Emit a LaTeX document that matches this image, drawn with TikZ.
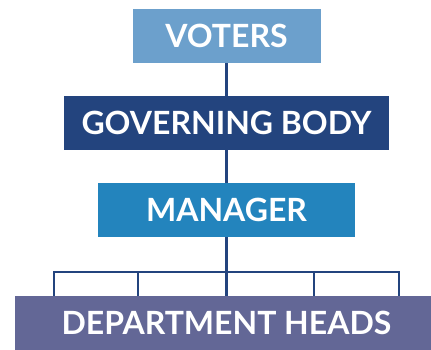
\documentclass[tikz,border=0pt]{standalone}
\usepackage{fontspec}
\setmainfont{Lato}
\definecolor{voterblue}{HTML}{6CA0CC}
\definecolor{bodyblue}{HTML}{23447E}
\definecolor{managerblue}{HTML}{2384BD}
\definecolor{deptpurple}{HTML}{636796}
\tikzset{
  orgbox/.style={fill=#1, text=white, font=\fontsize{32}{36}\selectfont\bfseries,
    minimum height=54pt, inner sep=0pt, text height=23pt, text depth=0pt},
  orgline/.style={draw=bodyblue, line width=2.6pt}
}
\begin{document}
\begin{tikzpicture}[x=1pt,y=-1pt]
  \useasboundingbox (0,0) rectangle (431,350);
  % Boxes
  \node[orgbox=voterblue, minimum width=188pt] (voters) at (226.5,36) {VOTERS};
  \node[orgbox=bodyblue, minimum width=325pt] (body) at (226.5,123) {GOVERNING BODY};
  \node[orgbox=managerblue, minimum width=257pt] (manager) at (226.5,210) {MANAGER};
  % Lines
  \coordinate (busl) at (54,272);
  \coordinate (busr) at (399,272);
  \coordinate (busa) at (138,272);
  \coordinate (busb) at (314,272);
  \draw[orgline] (voters.south) -- (body.north);
  \draw[orgline] (body.south) -- (manager.north);
  \draw[orgline] ([yshift=-26pt]busl) -- (busl) -- (busr) -- ([yshift=-26pt]busr);
  \draw[orgline] (busa) -- ([yshift=-26pt]busa);
  \draw[orgline] (busb) -- ([yshift=-26pt]busb);
  \node[orgbox=deptpurple, minimum width=423pt] (dept) at (226.5,323) {DEPARTMENT HEADS};
  \draw[orgline] (manager.south) -- (dept.north);
\end{tikzpicture}
\end{document}
